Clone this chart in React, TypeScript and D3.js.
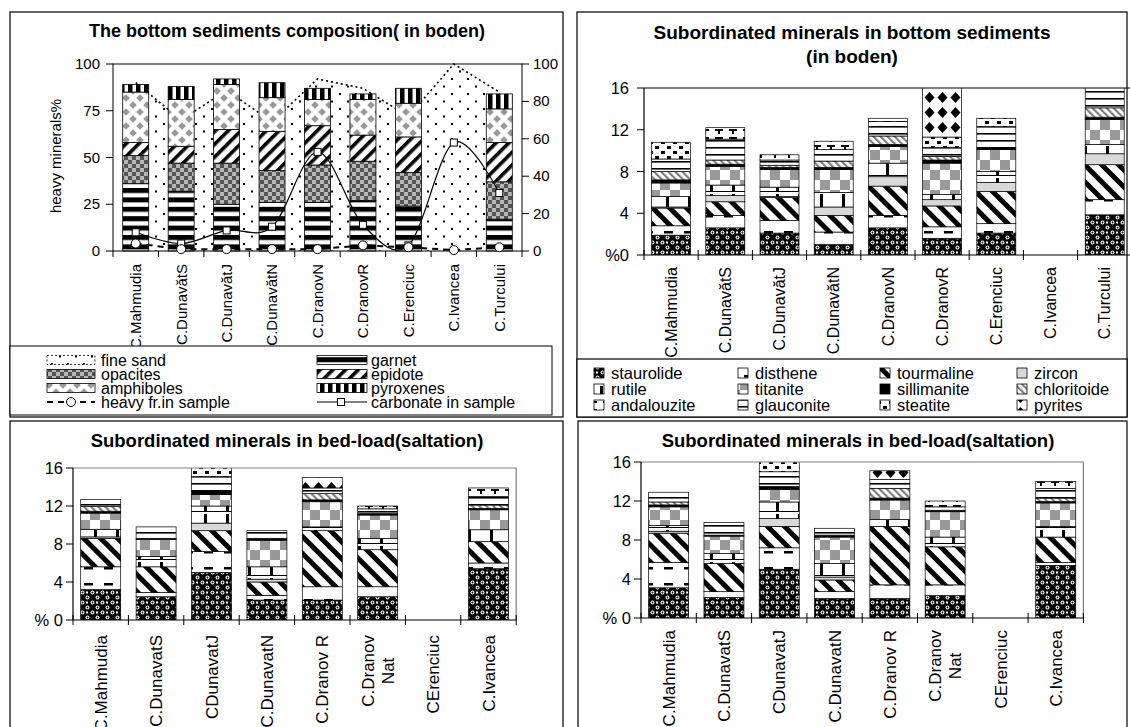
import React from "react";
import * as d3 from "d3";

const FONT = "'Liberation Sans', Arial, Helvetica, sans-serif";

// ---------------- Panel 1: the bottom sediments composition ----------------
const sedCats = ["C.Mahmudia", "C.DunavătS", "C.DunavătJ", "C.DunavătN", "C.DranovN", "C.DranovR", "C.Erenciuc", "C.Ivancea", "C.Turcului"];
const garnet = [36, 32, 25, 26, 26, 27, 24, 0, 17];
const opacites = [15, 15, 22, 17, 20, 21, 18, 0, 20];
const epidote = [7, 9, 18, 21, 21, 14, 19, 0, 21];
const amphiboles = [27, 25, 24, 18, 14, 19, 18, 0, 18];
const pyroxenes = [4, 7, 3, 8, 6, 3, 8, 0, 8];
const fineSand = [90, 70, 86, 69, 92, 87, 72, 100, 85];
const heavyFr = [4, 1, 1, 1, 1, 3, 2, 0.5, 2];
const carbonate = [10, 4, 11, 13, 53, 14, 3, 58, 31];
const leftTicks = [0, 25, 50, 75, 100];
const rightTicks = [0, 20, 40, 60, 80, 100];

// ---------------- minerals ----------------
const mineralLegend = ["staurolide", "disthene", "tourmaline", "zircon", "rutile", "titanite", "sillimanite", "chloritoide", "andalouzite", "glauconite", "steatite", "pyrites"];
const stackOrder = ["staurolide", "disthene", "tourmaline", "zircon", "rutile", "titanite", "sillimanite", "chloritoide", "glauconite", "andalouzite", "steatite", "pyrites"];
const subTicks = [0, 4, 8, 12, 16];

// Panel 2: subordinated minerals in bottom sediments
const bStaurolide = [1.9, 2.6, 2.1, 1.0, 2.6, 1.6, 2.1, 0, 3.85];
const bDisthene = [0.9, 1.2, 1.2, 1.2, 1.2, 1.1, 0.9, 0, 1.45];
const bTourmaline = [1.7, 1.3, 2.2, 1.6, 2.8, 2.0, 3.1, 0, 3.35];
const bZircon = [0.1, 0.6, 0.1, 0.8, 0.9, 0.6, 0.85, 0, 1.05];
const bRutile = [1.0, 1.0, 0.9, 1.4, 1.3, 0.5, 1.05, 0, 0.9];
const bTitanite = [1.3, 1.8, 1.7, 2.2, 1.6, 3.0, 2.1, 0, 2.4];
const bSillimanite = [0.3, 0.2, 0.2, 0.2, 0.2, 0.3, 0.2, 0, 0.2];
const bChloritoide = [0.8, 0.4, 0.2, 0.6, 0.8, 0.35, 0, 0, 0.9];
const bAndalouzite = [0, 1.1, 0.5, 0.8, 0.3, 0, 0, 0, 0];
const bGlauconite = [1.2, 2.0, 0.5, 1.1, 1.4, 0.85, 2.0, 0, 2.1];
const bSteatite = [1.6, 0, 0, 0, 0, 1.0, 0.8, 0, 0];
const bPyrites = [0, 0, 0, 0, 0, 5.7, 0, 0, 0];

// Panels 3 & 4: subordinated minerals in bed-load (saltation)
const salCats = ["C.Mahmudia", "C.DunavatS", "CDunavatJ", "C.DunavatN", "C.Dranov R", "C.Dranov\nNat", "CErenciuc", "C.Ivancea"];
const cStaurolide = [3.2, 2.45, 5.0, 2.1, 2.1, 2.45, 0, 5.4];
const cDisthene = [2.4, 0.45, 2.2, 0.5, 1.4, 1.05, 0, 0.6];
const cTourmaline = [3.0, 2.7, 2.2, 1.4, 5.9, 3.9, 0, 2.25];
const cZircon = [0.15, 0, 0.8, 0.3, 0, 0, 0, 0];
const cRutile = [0.8, 1.1, 1.8, 1.3, 0.4, 1.2, 0, 1.25];
const cTitanite = [1.7, 1.8, 1.2, 2.8, 2.65, 2.45, 0, 2.1];
const cSillimanite = [0.2, 0.1, 0.4, 0.2, 0.2, 0.15, 0, 0.15];
const cChloritoide = [0.5, 0, 0, 0, 0.65, 0, 0, 0.35];
const cAndalouzite = [0, 0, 0, 0, 0, 0.3, 0, 0.9];
const cGlauconite = [0.75, 1.2, 1.5, 0.8, 0.6, 0.5, 0, 0.9];
const cSteatite = [0, 0, 1.3, 0, 0, 0, 0, 0];
const cPyrites = [0, 0, 0, 0, 1.1, 0, 0, 0];

const dStaurolide = [3.1, 2.1, 5.0, 2.0, 2.0, 2.3, 0, 5.4];
const dDisthene = [2.6, 0.6, 2.2, 0.7, 1.4, 1.1, 0, 0.3];
const dTourmaline = [3.0, 2.9, 2.2, 1.2, 6.0, 3.9, 0, 2.6];
const dZircon = [0.2, 0, 0.8, 0.3, 0, 0, 0, 0];
const dRutile = [0.6, 1.0, 1.7, 1.4, 0.7, 1.0, 0, 1.1];
const dTitanite = [1.9, 1.8, 1.3, 2.7, 2.0, 2.6, 0, 2.4];
const dSillimanite = [0.2, 0.1, 0.3, 0.2, 0.2, 0.15, 0, 0.15];
const dChloritoide = [0.3, 0, 0, 0, 1.0, 0, 0, 0.35];
const dAndalouzite = [0, 0, 0, 0, 0, 0.6, 0, 0.7];
const dGlauconite = [1.0, 1.3, 1.5, 0.7, 0.9, 0.35, 0, 1.0];
const dSteatite = [0, 0, 1.4, 0, 0, 0, 0, 0];
const dPyrites = [0, 0, 0, 0, 0.9, 0, 0, 0];

const seriesB: Record<string, number[]> = {
  staurolide: bStaurolide, disthene: bDisthene, tourmaline: bTourmaline, zircon: bZircon,
  rutile: bRutile, titanite: bTitanite, sillimanite: bSillimanite, chloritoide: bChloritoide,
  andalouzite: bAndalouzite, glauconite: bGlauconite, steatite: bSteatite, pyrites: bPyrites,
};
const seriesC: Record<string, number[]> = {
  staurolide: cStaurolide, disthene: cDisthene, tourmaline: cTourmaline, zircon: cZircon,
  rutile: cRutile, titanite: cTitanite, sillimanite: cSillimanite, chloritoide: cChloritoide,
  andalouzite: cAndalouzite, glauconite: cGlauconite, steatite: cSteatite, pyrites: cPyrites,
};
const seriesD: Record<string, number[]> = {
  staurolide: dStaurolide, disthene: dDisthene, tourmaline: dTourmaline, zircon: dZircon,
  rutile: dRutile, titanite: dTitanite, sillimanite: dSillimanite, chloritoide: dChloritoide,
  andalouzite: dAndalouzite, glauconite: dGlauconite, steatite: dSteatite, pyrites: dPyrites,
};

const fillOf = (k: string) => (k === "zircon" ? "#d9d9d9" : k === "sillimanite" ? "#000" : `url(#pat-${k})`);

let _canvas: HTMLCanvasElement | null = null;
function measure(text: string, size: number) {
  if (!_canvas) _canvas = document.createElement("canvas");
  const ctx = _canvas.getContext("2d")!;
  ctx.font = `${size}px 'Liberation Sans', Arial, sans-serif`;
  return ctx.measureText(text).width;
}

function Defs() {
  const corners = [[0, 0], [14, 0], [0, 14], [14, 14]];
  const r = 3.8;
  return (
    <defs>
      <pattern id="pat-fineSand" patternUnits="userSpaceOnUse" width={16} height={15}>
        <rect width={16} height={15} fill="#fff" />
        <rect x={3} y={3} width={2} height={2} fill="#000" />
        <rect x={11} y={10.5} width={2} height={2} fill="#000" />
      </pattern>
      <pattern id="pat-garnet" patternUnits="userSpaceOnUse" width={10} height={9.4}>
        <rect width={10} height={9.4} fill="#fff" />
        <rect width={10} height={5} fill="#000" />
      </pattern>
      <pattern id="pat-opacites" patternUnits="userSpaceOnUse" width={8} height={8}>
        <rect width={8} height={8} fill="#b5b5b5" />
        <rect width={4} height={4} fill="#555" />
        <rect x={4} y={4} width={4} height={4} fill="#555" />
      </pattern>
      <pattern id="pat-epidote" patternUnits="userSpaceOnUse" width={9} height={9} patternTransform="rotate(45)">
        <rect width={9} height={9} fill="#fff" />
        <rect width={3.6} height={9} fill="#000" />
      </pattern>
      <pattern id="pat-amphiboles" patternUnits="userSpaceOnUse" width={14} height={14}>
        <rect width={14} height={14} fill="#fff" />
        <polygon points={`7,${7 - r} ${7 + r},7 7,${7 + r} ${7 - r},7`} fill="#999" />
        {corners.map(([cx, cy], i) => (
          <polygon key={i} points={`${cx},${cy - r} ${cx + r},${cy} ${cx},${cy + r} ${cx - r},${cy}`} fill="#999" />
        ))}
      </pattern>
      <pattern id="pat-pyroxenes" patternUnits="userSpaceOnUse" width={8} height={8}>
        <rect width={8} height={8} fill="#fff" />
        <rect width={4.5} height={8} fill="#000" />
      </pattern>
      <pattern id="pat-staurolide" patternUnits="userSpaceOnUse" width={10} height={10}>
        <rect width={10} height={10} fill="#000" />
        <circle cx={2.5} cy={2.5} r={2} fill="#fff" />
        <circle cx={7.5} cy={7.5} r={2} fill="#fff" />
        <circle cx={2.5} cy={2.5} r={0.9} fill="#000" />
        <circle cx={7.5} cy={7.5} r={0.9} fill="#000" />
        <rect x={6} y={1.5} width={2} height={2} fill="#fff" />
      </pattern>
      <pattern id="pat-disthene" patternUnits="userSpaceOnUse" width={20} height={16}>
        <rect width={20} height={16} fill="#fff" />
        <rect x={4} y={7} width={9} height={2.5} fill="#000" />
      </pattern>
      <pattern id="pat-tourmaline" patternUnits="userSpaceOnUse" width={12} height={12} patternTransform="rotate(-45)">
        <rect width={12} height={12} fill="#fff" />
        <rect width={5} height={12} fill="#000" />
      </pattern>
      <pattern id="pat-rutile" patternUnits="userSpaceOnUse" width={22} height={16}>
        <rect width={22} height={16} fill="#fff" />
        <rect y={15} width={22} height={1} fill="#000" />
        <rect x={6} y={2} width={3} height={13} fill="#000" />
      </pattern>
      <pattern id="pat-titanite" patternUnits="userSpaceOnUse" width={20} height={20}>
        <rect width={20} height={20} fill="#fff" />
        <rect width={10} height={10} fill="#999" />
        <rect x={10} y={10} width={10} height={10} fill="#999" />
      </pattern>
      <pattern id="pat-chloritoide" patternUnits="userSpaceOnUse" width={5} height={5} patternTransform="rotate(-45)">
        <rect width={5} height={5} fill="#fff" />
        <rect width={2.2} height={5} fill="#808080" />
      </pattern>
      <pattern id="pat-glauconite" patternUnits="userSpaceOnUse" width={8} height={7}>
        <rect width={8} height={7} fill="#fff" />
        <rect width={8} height={1.6} fill="#000" />
      </pattern>
      <pattern id="pat-andalouzite" patternUnits="userSpaceOnUse" width={14} height={8}>
        <rect width={14} height={8} fill="#fff" />
        <rect x={1} y={1} width={8} height={2} fill="#000" />
        <rect x={4} y={3} width={2} height={3} fill="#000" />
      </pattern>
      <pattern id="pat-steatite" patternUnits="userSpaceOnUse" width={12} height={10}>
        <rect width={12} height={10} fill="#fff" />
        <rect x={1} y={1} width={4} height={3} fill="#000" />
        <rect x={7} y={6} width={4} height={3} fill="#000" />
      </pattern>
      <pattern id="pat-pyrites" patternUnits="userSpaceOnUse" width={13} height={15}>
        <rect width={13} height={15} fill="#fff" />
        <polygon points="6.5,2 11.5,7.5 6.5,13 1.5,7.5" fill="#000" />
      </pattern>
    </defs>
  );
}

function CatLabels({ cats, x, top, size }: { cats: string[]; x: d3.ScaleBand<string>; top: number; size: number }) {
  return (
    <g fontFamily={FONT} fontSize={size} fill="#000">
      {cats.map((c, i) => {
        const cx = (x(c) as number) + x.bandwidth() / 2;
        const lines = c.split("\n");
        if (lines.length === 1) {
          return (
            <text key={i} transform={`translate(${cx + size * 0.36},${top}) rotate(-90)`} textAnchor="end">
              {c}
            </text>
          );
        }
        const L = Math.max(...lines.map((l) => measure(l, size)));
        const lh = size * 1.15;
        return (
          <g key={i}>
            {lines.map((l, j) => (
              <text
                key={j}
                transform={`translate(${cx + size * 0.36 + (j - (lines.length - 1) / 2) * lh},${top + L / 2}) rotate(-90)`}
                textAnchor="middle"
              >
                {l}
              </text>
            ))}
          </g>
        );
      })}
    </g>
  );
}

function PanelA() {
  const px0 = 113, px1 = 522, py0 = 64, py1 = 251;
  const x = d3.scaleBand<string>().domain(sedCats).range([px0, px1]);
  const y = d3.scaleLinear().domain([0, 100]).range([py1, py0]);
  const cx = (i: number) => (x(sedCats[i]) as number) + x.bandwidth() / 2;
  const keys = ["garnet", "opacites", "epidote", "amphiboles", "pyroxenes"];
  const vals: Record<string, number[]> = { garnet, opacites, epidote, amphiboles, pyroxenes };
  const rows = sedCats.map((c, i) => {
    const r: any = { cat: c };
    keys.forEach((k) => (r[k] = vals[k][i]));
    return r;
  });
  const stacked = d3.stack<any>().keys(keys)(rows);
  const area = d3.area<number>().x((_, i) => cx(i)).y0(y(0)).y1((d) => y(d));
  const line = d3.line<number>().x((_, i) => cx(i)).y((d) => y(d));
  const smooth = d3.line<number>().x((_, i) => cx(i)).y((d) => y(d)).curve(d3.curveCardinal.tension(0));
  const barW = 26;
  const bw = x.bandwidth();

  const legRows = [360, 374, 388, 402];
  const lc1 = 47, lc2 = 317, sw = 48;
  return (
    <g>
      <rect x={10} y={12} width={553} height={405} fill="#fff" stroke="#000" strokeWidth={1.2} />
      <text x={287} y={37} textAnchor="middle" fontFamily={FONT} fontWeight="bold" fontSize={18}>
        The bottom sediments composition( in boden)
      </text>
      <path d={area(fineSand) || ""} fill="url(#pat-fineSand)" />
      <path d={line(fineSand) || ""} fill="none" stroke="#000" strokeWidth={1.6} strokeDasharray="2,3" />
      {stacked.map((s) => (
        <g key={s.key}>
          {s.map((d, i) =>
            d[1] - d[0] > 0 ? (
              <rect key={i} x={cx(i) - barW / 2} y={y(d[1])} width={barW} height={y(d[0]) - y(d[1])}
                fill={`url(#pat-${s.key})`} stroke="#000" strokeWidth={0.8} />
            ) : null
          )}
        </g>
      ))}
      <rect x={px0} y={py0} width={px1 - px0} height={py1 - py0} fill="none" stroke="#000" strokeWidth={1} />
      <path d={smooth(carbonate) || ""} fill="none" stroke="#000" strokeWidth={1.2} />
      <path d={line(heavyFr) || ""} fill="none" stroke="#000" strokeWidth={2} strokeDasharray="6,5" />
      {carbonate.map((v, i) => (
        <rect key={i} x={cx(i) - 3.5} y={y(v) - 3.5} width={7} height={7} fill="#fff" stroke="#000" strokeWidth={1} />
      ))}
      {heavyFr.map((v, i) => (
        <circle key={i} cx={cx(i)} cy={y(v)} r={4.5} fill="#fff" stroke="#000" strokeWidth={1} />
      ))}
      <g fontFamily={FONT} fontSize={15}>
        {leftTicks.map((t) => (
          <g key={t}>
            <line x1={px0 - 7} x2={px0} y1={y(t)} y2={y(t)} stroke="#000" />
            <text x={px0 - 13} y={y(t) + 5} textAnchor="end">{t}</text>
          </g>
        ))}
        {rightTicks.map((t) => (
          <g key={t}>
            <line x1={px1} x2={px1 + 7} y1={y(t)} y2={y(t)} stroke="#000" />
            <text x={px1 + 11} y={y(t) + 5}>{t}</text>
          </g>
        ))}
        {d3.range(sedCats.length + 1).map((i) => (
          <line key={i} x1={px0 + i * bw} x2={px0 + i * bw} y1={py1} y2={py1 + 6} stroke="#000" />
        ))}
        <text transform={`translate(${61},${156}) rotate(-90)`} textAnchor="middle">heavy minerals%</text>
      </g>
      <CatLabels cats={sedCats} x={x} top={264} size={15} />
      <rect x={10} y={346} width={542} height={69} fill="#fff" stroke="#000" strokeWidth={1} />
      <g fontFamily={FONT} fontSize={16}>
        {[["fineSand", "fine sand"], ["opacites", "opacites"], ["amphiboles", "amphiboles"]].map(([k, lab], i) => (
          <g key={k}>
            <rect x={lc1} y={legRows[i] - 4.5} width={sw} height={9} fill={`url(#pat-${k})`} stroke="#000" strokeWidth={0.8}
              strokeDasharray={k === "fineSand" ? "2,2" : undefined} />
            <text x={lc1 + sw + 6} y={legRows[i] + 5.5}>{lab}</text>
          </g>
        ))}
        {[["garnet", "garnet"], ["epidote", "epidote"], ["pyroxenes", "pyroxenes"]].map(([k, lab], i) => (
          <g key={k}>
            <rect x={lc2} y={legRows[i] - 4.5} width={sw + 2} height={9} fill={`url(#pat-${k})`} stroke="#000" strokeWidth={0.8} />
            <text x={lc2 + sw + 6} y={legRows[i] + 5.5}>{lab}</text>
          </g>
        ))}
        <line x1={lc1} x2={lc1 + sw} y1={legRows[3]} y2={legRows[3]} stroke="#000" strokeWidth={2} strokeDasharray="6,5" />
        <circle cx={lc1 + sw / 2} cy={legRows[3]} r={4.5} fill="#fff" stroke="#000" />
        <text x={lc1 + sw + 6} y={legRows[3] + 5.5}>heavy fr.in sample</text>
        <line x1={lc2} x2={lc2 + sw + 2} y1={legRows[3]} y2={legRows[3]} stroke="#000" strokeWidth={1.2} />
        <rect x={lc2 + sw / 2 - 3.5} y={legRows[3] - 3.5} width={7} height={7} fill="#fff" stroke="#000" />
        <text x={lc2 + sw + 6} y={legRows[3] + 5.5}>carbonate in sample</text>
      </g>
    </g>
  );
}

type StackProps = {
  id: string;
  frame: [number, number, number, number];
  titles: string[];
  titleX: number;
  titleY: number;
  titleSize: number;
  plot: [number, number, number, number];
  bandW: number;
  cats: string[];
  series: Record<string, number[]>;
  barW: number;
  tickSize: number;
  tickLabelX: number;
  zeroLabel: string;
  labelTop: number;
  labelSize: number;
  grayBox: boolean;
  legendFirst?: React.ReactNode;
};

function StackPanel(p: StackProps) {
  const [px0, py0, , py1] = p.plot;
  const px1 = px0 + p.bandW * p.cats.length;
  const x = d3.scaleBand<string>().domain(p.cats).range([px0, px1]);
  const y = d3.scaleLinear().domain([0, 16]).range([py1, py0]);
  const rows = p.cats.map((c, i) => {
    const r: any = { cat: c };
    stackOrder.forEach((k) => (r[k] = p.series[k][i]));
    return r;
  });
  const stacked = d3.stack<any>().keys(stackOrder)(rows);
  const bw = x.bandwidth();
  const cx = (i: number) => (x(p.cats[i]) as number) + bw / 2;
  const [fx, fy, fw, fh] = p.frame;
  return (
    <g>
      <rect x={fx} y={fy} width={fw} height={fh} fill="#fff" stroke="#000" strokeWidth={1.2} />
      {p.titles.map((t, i) => (
        <text key={i} x={p.titleX} y={p.titleY + i * 24} textAnchor="middle" fontFamily={FONT} fontWeight="bold" fontSize={p.titleSize}>
          {t}
        </text>
      ))}
      <clipPath id={`clip-${p.id}`}>
        <rect x={px0} y={py0} width={px1 - px0} height={py1 - py0} />
      </clipPath>
      <g clipPath={`url(#clip-${p.id})`}>
        {stacked.map((s) => (
          <g key={s.key}>
            {s.map((d, i) =>
              d[1] - d[0] > 0 ? (
                <rect key={i} x={cx(i) - p.barW / 2} y={y(d[1])} width={p.barW} height={y(d[0]) - y(d[1])}
                  fill={fillOf(s.key)} stroke="#000" strokeWidth={0.7} />
              ) : null
            )}
          </g>
        ))}
      </g>
      {p.grayBox ? (
        <path d={`M${px0},${py0}H${px1}V${py1}`} fill="none" stroke="#808080" strokeWidth={1.2} />
      ) : (
        <line x1={px0} x2={px1} y1={py0} y2={py0} stroke="#000" strokeWidth={1} />
      )}
      <line x1={px0} x2={px0} y1={py0} y2={py1} stroke="#000" strokeWidth={1.2} />
      <line x1={px0} x2={px1} y1={py1} y2={py1} stroke="#000" strokeWidth={1.2} />
      <g fontFamily={FONT} fontSize={p.tickSize}>
        {subTicks.map((t) => (
          <g key={t}>
            <line x1={px0 - 7} x2={px0} y1={y(t)} y2={y(t)} stroke="#000" />
            <text x={p.tickLabelX} y={y(t) + 6} textAnchor="end">{t === 0 ? p.zeroLabel : t}</text>
          </g>
        ))}
        {d3.range(p.cats.length + 1).map((i) => (
          <line key={i} x1={px0 + i * bw} x2={px0 + i * bw} y1={py1 - 5} y2={py1 + 5} stroke="#000" />
        ))}
      </g>
      {p.legendFirst}
      <CatLabels cats={p.cats} x={x} top={p.labelTop} size={p.labelSize} />
    </g>
  );
}

function LegendB() {
  const colX = [594, 738, 880, 1017];
  const rowY = [373, 389, 405];
  return (
    <g>
      <rect x={577} y={359} width={550} height={58} fill="#fff" stroke="#000" strokeWidth={1.2} />
      <g fontFamily={FONT} fontSize={16.5}>
        {mineralLegend.map((m, i) => {
          const cx = colX[i % 4];
          const cy = rowY[Math.floor(i / 4)];
          return (
            <g key={m}>
              <rect x={cx} y={cy - 5} width={10} height={10} fill={fillOf(m)} stroke="#000" strokeWidth={0.8} />
              <text x={cx + 17} y={cy + 5.5}>{m}</text>
            </g>
          );
        })}
      </g>
    </g>
  );
}

export default function App() {
  return (
    <svg width={1130} height={727} viewBox="0 0 1130 727"
      style={{ position: "absolute", left: 0, top: 0, background: "#fff" }}>
      <Defs />
      <rect width={1130} height={727} fill="#fff" />
      <PanelA />
      <StackPanel
        id="b" frame={[577, 12, 550, 405]} titles={["Subordinated minerals in bottom sediments", "(in boden)"]}
        titleX={852} titleY={39} titleSize={19} plot={[644, 88, 0, 255]} bandW={54.2}
        cats={sedCats} series={seriesB} barW={39} tickSize={16.5} tickLabelX={629} zeroLabel="%0"
        labelTop={267} labelSize={16} grayBox={false} legendFirst={<LegendB />}
      />
      <StackPanel
        id="c" frame={[10, 421, 553, 330]} titles={["Subordinated minerals in bed-load(saltation)"]}
        titleX={287} titleY={447} titleSize={18.5} plot={[73, 468, 0, 620]} bandW={55.4}
        cats={salCats} series={seriesC} barW={40} tickSize={16.5} tickLabelX={63} zeroLabel="% 0"
        labelTop={635} labelSize={17} grayBox={true}
      />
      <StackPanel
        id="d" frame={[578, 421, 549, 330]} titles={["Subordinated minerals in bed-load(saltation)"]}
        titleX={858} titleY={447} titleSize={18.5} plot={[641, 462, 0, 618]} bandW={55.3}
        cats={salCats} series={seriesD} barW={40} tickSize={16.5} tickLabelX={631} zeroLabel="% 0"
        labelTop={630} labelSize={17} grayBox={true}
      />
    </svg>
  );
}
